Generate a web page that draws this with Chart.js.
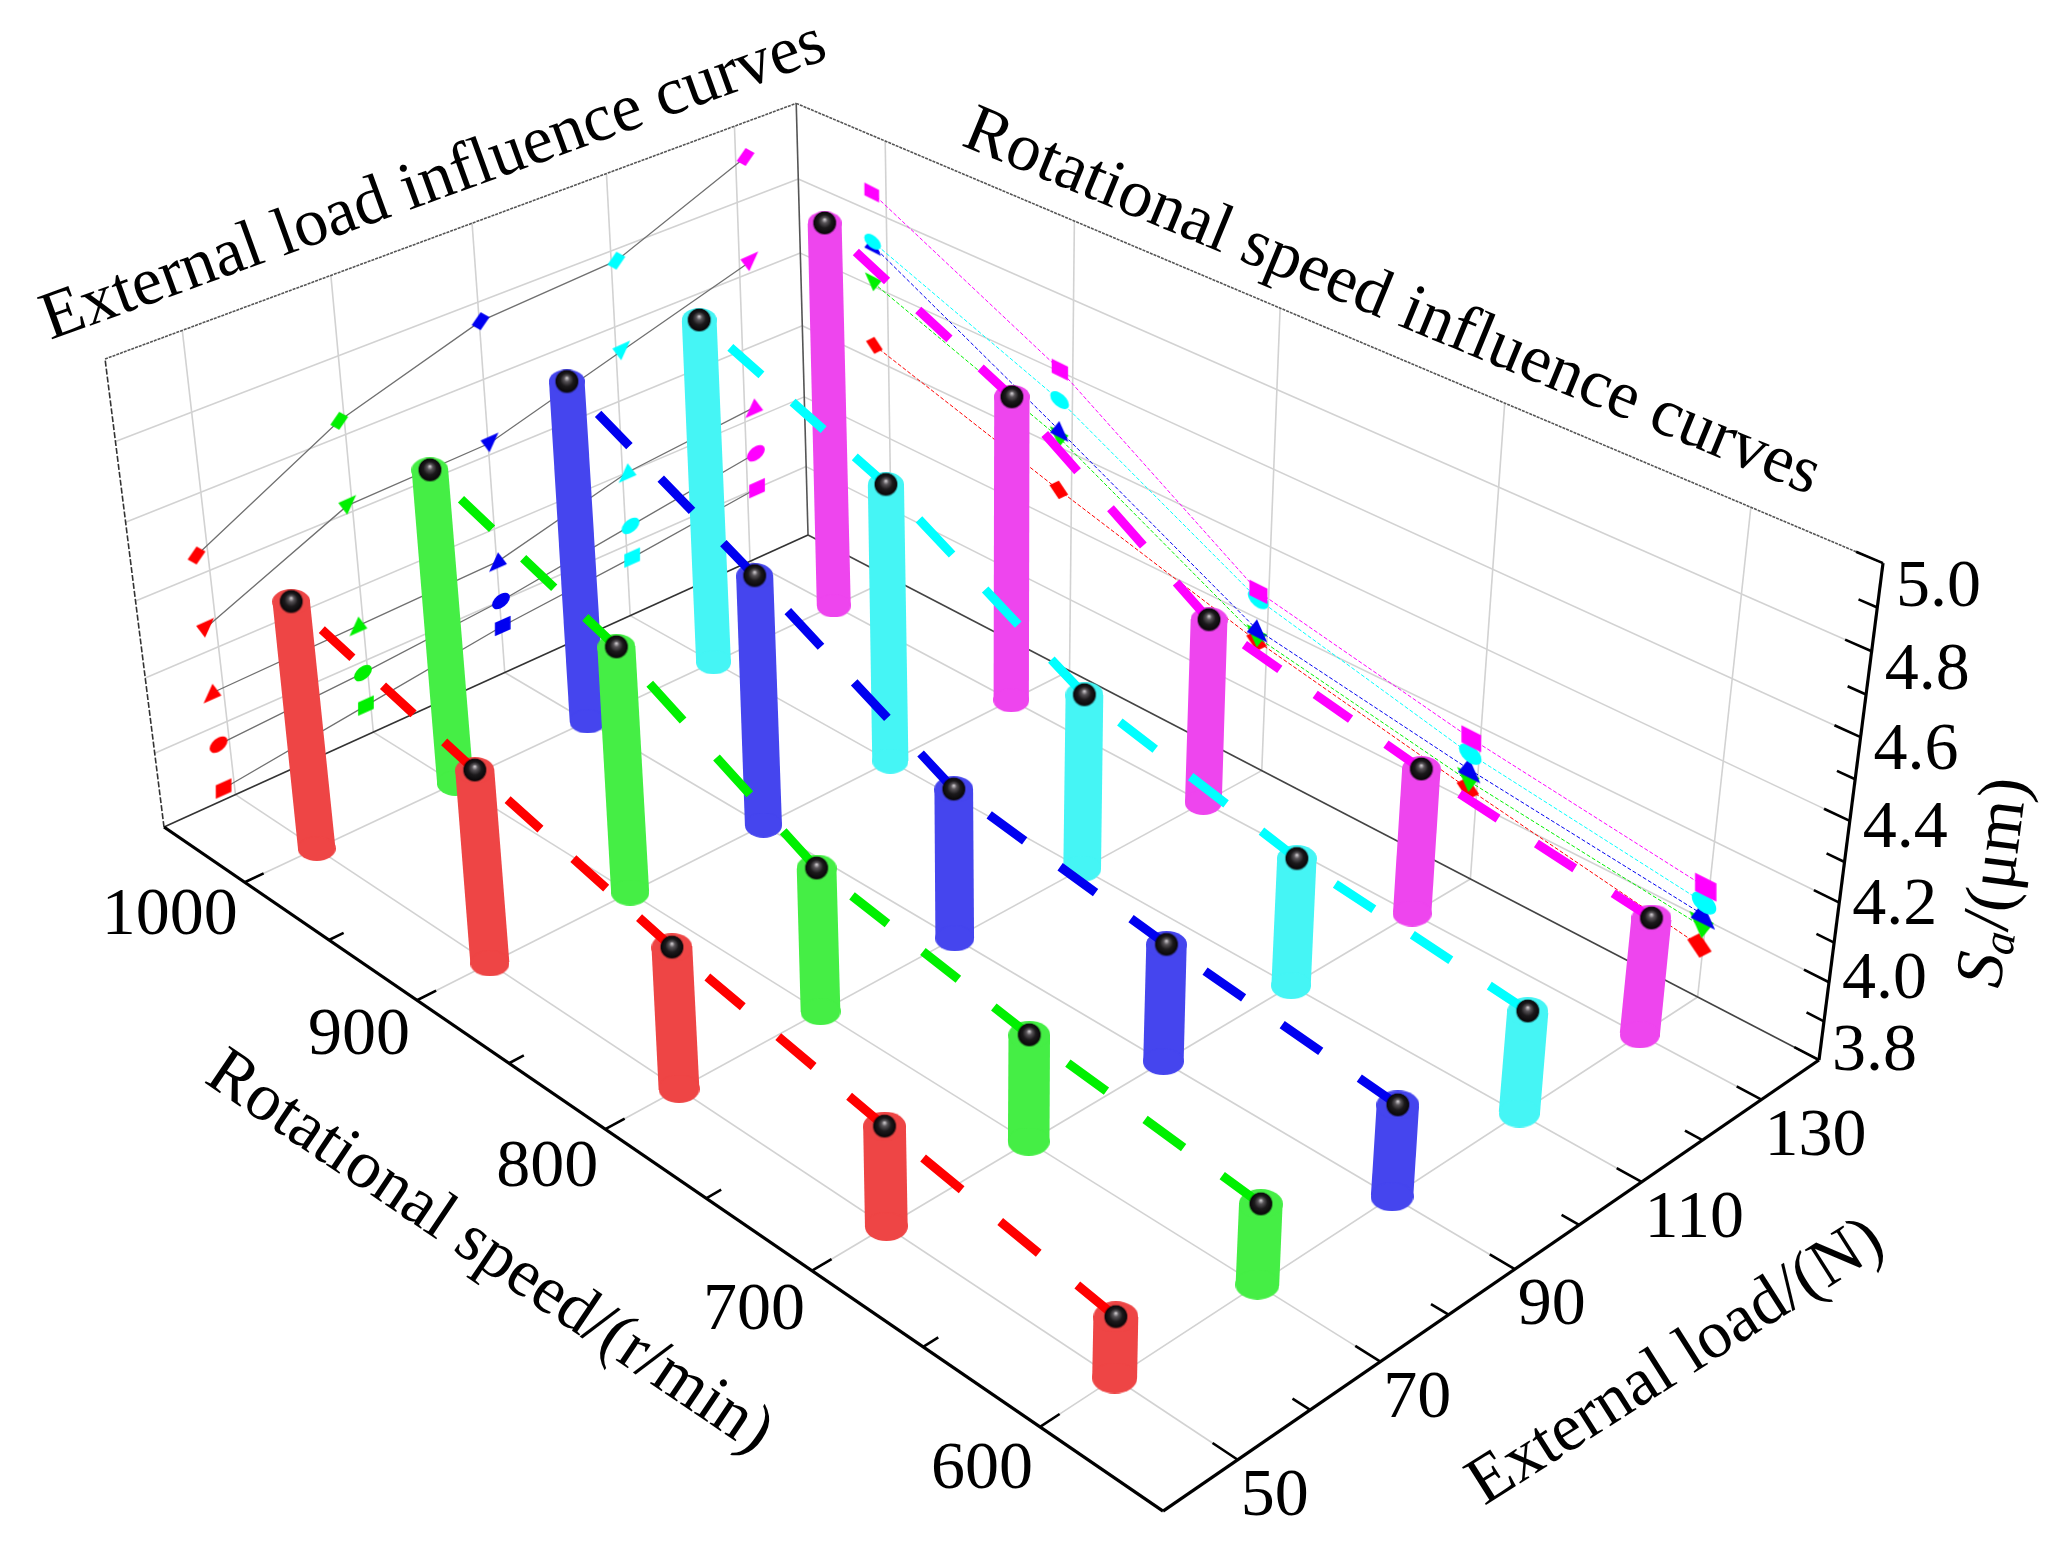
<!DOCTYPE html>
<html><head><meta charset="utf-8">
<style>html,body{margin:0;padding:0;background:#fff}canvas{display:block}</style>
<script src="https://cdn.jsdelivr.net/npm/chart.js@4/dist/chart.umd.min.js"></script>
</head><body>
<canvas id="c" width="2054" height="1553" style="width:2054px;height:1553px"></canvas>
<script>
// ---------- data ----------
const speeds = [1000, 900, 800, 700, 600];
const loads = [50, 70, 90, 110, 130];
const speedMinor = [950, 850, 750, 650];
const loadMinor = [60, 80, 100, 120];
const saTicks = [3.8, 4.0, 4.2, 4.4, 4.6, 4.8, 5.0];
const saMinor = [3.9, 4.1, 4.3, 4.5, 4.7, 4.9];

// columns: Sa against rotational speed, one list per external load
const sa50N  = [4.45, 4.30, 4.16, 4.05, 3.95];
const sa70N  = [4.63, 4.44, 4.17, 4.07, 4.00];
const sa90N  = [4.71, 4.46, 4.19, 4.10, 4.03];
const sa110N = [4.73, 4.54, 4.26, 4.13, 4.06];
const sa130N = [4.85, 4.62, 4.29, 4.18, 4.10];

// external load influence curves on the left wall, one list per speed
const loadCurve1000 = [4.45, 4.64, 4.75, 4.77, 4.91];
const loadCurve900  = [4.26, 4.42, 4.43, 4.53, 4.63];
const loadCurve800  = [4.09, 4.10, 4.11, 4.20, 4.23];
const loadCurve700  = [3.95, 3.97, 4.00, 4.05, 4.10];
const loadCurve600  = [3.83, 3.88, 3.93, 3.96, 4.00];

// rotational speed influence curves on the right wall, one list per load
const speedCurve50  = [4.44, 4.285, 4.14, 4.03, 3.93];
const speedCurve70  = [4.61, 4.425, 4.15, 4.05, 3.98];
const speedCurve90  = [4.71, 4.445, 4.17, 4.08, 4.01];
const speedCurve110 = [4.72, 4.525, 4.25, 4.12, 4.04];
const speedCurve130 = [4.85, 4.605, 4.27, 4.16, 4.08];

const seriesColors = ['#ff0000', '#00f000', '#0000f0', '#00ffff', '#ff00ff'];
const columnColors = ['#ee4545', '#45ee45', '#4545ee', '#45f5f5', '#ee45ee'];

// ---------- perspective view of the box ----------
const view = {g:-0.2087, h:0.1236, a:756.3, b:743.9, c:164, d:368.7, e:-225.9, f:827, s:0.0661, vx:997, vy:7440};
const leftWallShift = [-1.5, -0.7, 0.2, 0.8, 1.6];
const rightWallShift = [8, 6.7, 5, 4, 1.5];
const SOLID = [5000, 1]; // keeps Chart.js on its exact line path
function W(u,v){return view.g*u+view.h*v+1;}
function project(speed, load, sa){
  const u=(1050-speed)/500, v=(load-40)/100, z=(sa-3.8)/1.2;
  const X=view.a*u+view.b*v+view.c, Y=view.d*u+view.e*v+view.f, w=W(u,v), k=view.s*z;
  return {x:(X-k*view.vx)/(w-k), y:(Y-k*view.vy)/(w-k)};
}

// ---------- sprites ----------
function sprite(w,h,draw){const c=document.createElement('canvas');c.width=w;c.height=h;draw(c.getContext('2d'));return c;}
function ellipseSprite(col,w){const W2=Math.round(w+0.3),H=Math.round(w*0.68);
  return sprite(W2,H,x=>{x.fillStyle=col;x.beginPath();x.ellipse(W2/2,H/2,W2/2,H/2,0,0,7);x.fill();});}
const ballSprite = sprite(26,26,x=>{
  const g=x.createRadialGradient(13,9.5,0.5,13,13,11.5);
  g.addColorStop(0,'#c4c0c4');g.addColorStop(0.22,'#585458');g.addColorStop(0.55,'#1c1a1c');g.addColorStop(0.92,'#0a080a');g.addColorStop(1,'rgba(10,8,10,0.4)');
  x.fillStyle=g;x.beginPath();x.arc(13,13,12,0,7);x.fill();});
function markerSprite(shape,col,slope,size){return sprite(50,56,x=>{
  x.setTransform(size,slope*size,0,size,25,28);x.fillStyle=col;x.beginPath();
  if(shape==='rect')x.rect(-7,-6,14,12);
  if(shape==='circle')x.ellipse(0,0,8,6.5,0,0,7);
  if(shape==='up'){x.moveTo(-8,6);x.lineTo(8,6);x.lineTo(0,-8);x.closePath();}
  if(shape==='down'){x.moveTo(-8,-6);x.lineTo(8,-6);x.lineTo(0,8);x.closePath();}
  if(shape==='diamond'){x.moveTo(-8,0);x.lineTo(0,-8);x.lineTo(8,0);x.lineTo(0,8);x.closePath();}
  x.fill();});}

// ---------- datasets in drawing order ----------
const sets=[];
function seg(points,color,width,dash,extra){
  sets.push(Object.assign({data:points,borderColor:color,borderWidth:width,borderDash:dash||SOLID,pointRadius:0,fill:false,tension:0,showLine:true},extra||{}));
}
const GRID='#d2d2d2';
const END_S=[1050,550], END_L=[40,140];
// floor grid
speeds.forEach(s=>seg([project(s,END_L[0],3.8),project(s,END_L[1],3.8)],GRID,1.6));
loads.forEach(l=>seg([project(END_S[0],l,3.8),project(END_S[1],l,3.8)],GRID,1.6));
// walls
loads.forEach(l=>seg([project(END_S[0],l,3.8),project(END_S[0],l,5)],GRID,1.6));
speeds.forEach(s=>seg([project(s,END_L[1],3.8),project(s,END_L[1],5)],GRID,1.6));
saTicks.slice(1,-1).forEach(t=>{
  seg([project(END_S[0],END_L[0],t),project(END_S[0],END_L[1],t)],GRID,1.6);
  seg([project(END_S[0],END_L[1],t),project(END_S[1],END_L[1],t)],GRID,1.6);
});
// thin edges of the box
seg([project(1050,40,5),project(1050,140,5)],'#555',1.6,[3,1]);
seg([project(1050,140,5),project(550,140,5)],'#555',1.6,[3,1]);
seg([project(1050,40,3.8),project(1050,40,5)],'#333',1.6,[6,2]);
seg([project(1050,140,3.8),project(1050,140,5)],'#555',1.6);
seg([project(1050,40,3.8),project(1050,140,3.8)],'#333',1.6);
seg([project(1050,140,3.8),project(550,140,3.8)],'#444',1.6);

// external load curves on the left wall
const leftShapes=['diamond','down','up','circle','rect'];
[loadCurve1000,loadCurve900,loadCurve800,loadCurve700,loadCurve600].forEach((vals,i)=>{
  sets.push({data:vals.map((sa,j)=>project(1050,loads[j]+leftWallShift[j],sa)),borderColor:'#707070',borderWidth:1.3,borderDash:SOLID,tension:0,showLine:true,fill:false,
    pointRadius:6,pointStyle:vals.map((_,j)=>markerSprite(leftShapes[i],seriesColors[j],-0.45,1.12))});
});
// rotational speed curves on the right wall
const rightShapes=['diamond','down','up','circle','rect'];
[speedCurve50,speedCurve70,speedCurve90,speedCurve110,speedCurve130].forEach((vals,i)=>{
  sets.push({data:vals.map((sa,j)=>project(speeds[j]+rightWallShift[j],140,sa)),borderColor:seriesColors[i],borderWidth:1,borderDash:[4,2],tension:0,showLine:true,fill:false,
    pointRadius:6,pointStyle:vals.map((_,j)=>markerSprite(rightShapes[i],seriesColors[i],0.5,1.05+0.12*j))});
});

// columns, dashed lines and balls, from the back row to the front row
const columnSeries=[sa50N,sa70N,sa90N,sa110N,sa130N];
for(let i=4;i>=0;i--){
  const vals=columnSeries[i], load=loads[i], tops=vals.map((sa,j)=>project(speeds[j],load,sa));
  speeds.forEach((s,j)=>{
    const w=37/W((1050-s)/500,(load-40)/100);
    sets.push({data:[project(s,load,3.8),tops[j]],borderColor:columnColors[i],borderWidth:w,borderDash:SOLID,borderCapStyle:'butt',tension:0,showLine:true,fill:false,
      pointRadius:6,pointStyle:ellipseSprite(columnColors[i],w)});
  });
  const part=c=>Math.hypot(c.p1.x-c.p0.x,c.p1.y-c.p0.y)/6;
  sets.push({data:tops,borderColor:seriesColors[i],borderWidth:9,tension:0,showLine:true,fill:false,pointRadius:0,borderCapStyle:'butt',
    segment:{borderDash:c=>[part(c),part(c)],borderDashOffset:c=>part(c)}});
  sets.push({data:tops,showLine:false,pointRadius:6,pointStyle:ballSprite,borderWidth:0});
}
// heavy axes
seg([project(1050,40,3.8),project(550,40,3.8)],'#000',3.2);
seg([project(550,40,3.8),project(550,140,3.8)],'#000',3.2);
seg([project(550,140,3.8),project(550,140,5)],'#000',3.2);
speeds.forEach(s=>seg([project(s,40,3.8),project(s,42.6,3.8)],'#000',2.6));
speedMinor.forEach(s=>seg([project(s,40,3.8),project(s,42,3.8)],'#000',2.6));
loads.forEach(l=>seg([project(550,l,3.8),project(560,l,3.8)],'#000',2.6));
loadMinor.forEach(l=>seg([project(550,l,3.8),project(557,l,3.8)],'#000',2.6));
saTicks.forEach(t=>seg([project(550,140,t),project(560,140,t)],'#000',2.6));
saMinor.forEach(t=>seg([project(550,140,t),project(557,140,t)],'#000',2.6));
sets.forEach((d,i)=>{d.order=sets.length-i;});

// ---------- text ----------
const FONT='"Liberation Serif","Times New Roman",serif';
const textPlugin={id:'labels',afterDraw(chart){
  const {ctx,scales:{x,y}}=chart;
  const put=(str,px,py,deg,align,font)=>{ctx.save();ctx.translate(px,py);ctx.rotate(deg*Math.PI/180);ctx.font=font||('68px '+FONT);
    ctx.textAlign=align||'center';ctx.textBaseline='alphabetic';ctx.fillStyle='#000';ctx.fillText(str,0,0);ctx.restore();};
  const at=p=>({x:x.getPixelForValue(p.x),y:y.getPixelForValue(p.y)});
  speeds.forEach(s=>{const p=at(project(s,40,3.8));put(String(s),p.x-7,p.y+52+(1000-s)*0.022,0,'right');});
  loads.forEach(l=>{const p=at(project(550,l,3.8));put(String(l),p.x+3,p.y+55,0,'left');});
  saTicks.forEach(t=>{const p=at(project(550,140,t));put(t.toFixed(1),p.x+13,p.y+10+27.5*(t-3.8),0,'left');});
  put('External load influence curves',440,199,-19.9);
  put('Rotational speed influence curves',1385,320,22.4);
  put('Rotational speed/(r/min)',479,1268,34);
  put('External load/(N)',1686,1378,-32.4);
  // Sa/(μm) along the vertical axis
  ctx.save();ctx.translate(2000,989);ctx.rotate(-82.7*Math.PI/180);ctx.fillStyle='#000';ctx.textBaseline='alphabetic';ctx.textAlign='left';
  ctx.font='italic 68px '+FONT;ctx.fillText('S',0,0);let adv=ctx.measureText('S').width;
  ctx.font='italic 46px '+FONT;ctx.fillText('a',adv,8);adv+=ctx.measureText('a').width;
  ctx.font='68px '+FONT;ctx.fillText('/(μm)',adv,0);ctx.restore();
}};

new Chart(document.getElementById('c'),{
  type:'scatter',
  data:{datasets:sets},
  options:{responsive:false,animation:false,devicePixelRatio:1,
    layout:{padding:0,autoPadding:false},
    plugins:{legend:{display:false},tooltip:{enabled:false},title:{display:false}},
    scales:{
      x:{type:'linear',min:0,max:2054,display:false},
      y:{type:'linear',min:0,max:1553,reverse:true,display:false}
    }},
  plugins:[textPlugin]
});
</script>
</body></html>
